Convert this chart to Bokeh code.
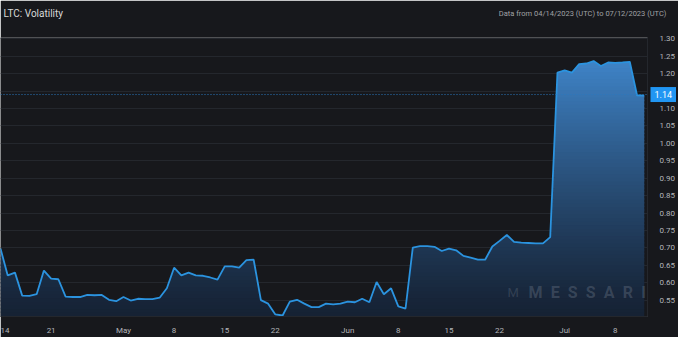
import numpy as np
from datetime import datetime, timedelta
from bokeh.plotting import figure
from bokeh.models import Range1d, FixedTicker, Label, Span, NumeralTickFormatter
from bokeh.embed import file_html
from bokeh.resources import INLINE

# ---------------- data ----------------
start_date = datetime(2023, 4, 14)
volatility = [
    0.698, 0.621, 0.629, 0.563, 0.562, 0.567, 0.635, 0.612, 0.610, 0.560,
    0.559, 0.559, 0.565, 0.564, 0.565, 0.551, 0.547, 0.559, 0.549, 0.554,
    0.553, 0.553, 0.557, 0.584, 0.643, 0.621, 0.629, 0.621, 0.620, 0.615,
    0.609, 0.647, 0.647, 0.643, 0.665, 0.666, 0.550, 0.540, 0.509, 0.506,
    0.546, 0.551, 0.540, 0.530, 0.530, 0.540, 0.538, 0.540, 0.546, 0.544,
    0.554, 0.544, 0.602, 0.567, 0.584, 0.532, 0.526, 0.701, 0.705, 0.705,
    0.703, 0.691, 0.698, 0.693, 0.677, 0.672, 0.666, 0.666, 0.704, 0.720,
    0.737, 0.717, 0.715, 0.714, 0.713, 0.713, 0.731, 1.203, 1.209, 1.203,
    1.227, 1.229, 1.236, 1.222, 1.232, 1.231, 1.232, 1.234, 1.138, 1.137,
]
dates = [start_date + timedelta(days=i) for i in range(len(volatility))]

tick_dates = ["2023-04-14", "2023-04-21", "2023-05-01", "2023-05-08", "2023-05-15",
              "2023-05-22", "2023-06-01", "2023-06-08", "2023-06-15", "2023-06-22",
              "2023-07-01", "2023-07-08"]
tick_labels = ["14", "21", "May", "8", "15", "22", "Jun", "8", "15", "22", "Jul", "8"]
y_ticks = [0.55, 0.60, 0.65, 0.70, 0.75, 0.80, 0.85, 0.90, 0.95, 1.00,
           1.05, 1.10, 1.15, 1.20, 1.25, 1.30]
last_value = 1.14
last_label = "1.14"
title_text = "LTC: Volatility"
range_text = "Data from 04/14/2023 (UTC) to 07/12/2023 (UTC)"
watermark_text = "\u2002".join("MESSARI")

# ---------------- geometry ----------------
W, H = 678, 337
FRAME_TOP, FRAME_RIGHT, FRAME_BOTTOM = 37, 652, 322
Y_PER_PX = 0.05 / 17.8                 # value units per pixel
Y_BOTTOM = 0.55 - (FRAME_BOTTOM - 305.3) * Y_PER_PX
Y_TOP = 1.30 + (38.3 - FRAME_TOP) * Y_PER_PX
DAY = 86400000.0
X_DAYS = 89.45
PX_PER_DAY = FRAME_RIGHT / X_DAYS


def to_ms(d):
    return float(np.datetime64(d, "ms").astype("int64"))


x_ms = np.array([to_ms(d) for d in dates])
v = np.array(volatility)
X0 = x_ms[0]


def cx(px):   # canvas px -> data x
    return X0 + px / PX_PER_DAY * DAY


def cy(py):   # canvas px -> data y
    return Y_TOP - (py - FRAME_TOP) * Y_PER_PX


BG = "#17181c"
p = figure(width=W, height=H, x_axis_type="datetime", y_axis_location="right",
           output_backend="svg", toolbar_location=None, title=None,
           x_range=Range1d(X0, X0 + X_DAYS * DAY),
           y_range=Range1d(Y_BOTTOM, Y_TOP),
           min_border_left=0, min_border_right=W - FRAME_RIGHT,
           min_border_top=FRAME_TOP, min_border_bottom=H - FRAME_BOTTOM)
p.background_fill_color = BG
p.border_fill_color = BG
p.outline_line_color = None

# gradient fill under the line, as horizontal bands
lo_rgb = np.array([22, 34, 52])
hi_rgb = np.array([64, 134, 203])
n_bands = 70
edges = np.linspace(Y_BOTTOM, v.max(), n_bands + 1)
edges[0] = Y_BOTTOM - 0.05


def refine(levels):
    xs = list(x_ms)
    for i in range(len(v) - 1):
        for L in levels:
            a0, a1 = v[i] - L, v[i + 1] - L
            if a0 * a1 < 0:
                t = a0 / (a0 - a1)
                xs.append(x_ms[i] + t * (x_ms[i + 1] - x_ms[i]))
    xs = np.unique(np.array(xs))
    return xs, np.interp(xs, x_ms, v)


for k in range(n_bands):
    a, b = edges[k], edges[k + 1]
    xs, ys = refine([a, b])
    y1 = np.minimum(ys, a)
    y2 = np.minimum(ys, b + 0.004)
    mid = max((a + b) / 2, Y_BOTTOM)
    t = np.clip((mid - 0.50) / (1.25 - 0.50), 0, 1) ** 1.2
    rgb = (lo_rgb + t * (hi_rgb - lo_rgb)).astype(int)
    p.varea(x=xs, y1=y1, y2=y2, fill_color="#%02x%02x%02x" % tuple(rgb), fill_alpha=1.0)

p.line(x=x_ms, y=v, line_color="#2b93df", line_width=1.8)

# last value dotted line
p.add_layout(Span(location=last_value, dimension="width", line_color="#2a78c0",
                  line_dash="1 2", line_width=1))

# axes
tick_ms = [to_ms(datetime.strptime(s, "%Y-%m-%d")) for s in tick_dates]
p.xaxis.ticker = FixedTicker(ticks=tick_ms)
p.xaxis.major_label_overrides = {t: l for t, l in zip(tick_ms, tick_labels)}
p.yaxis.ticker = FixedTicker(ticks=y_ticks)
p.yaxis.formatter = NumeralTickFormatter(format="0.00")
for ax in (p.xaxis[0], p.yaxis[0]):
    ax.axis_line_color = "#24272d"
    ax.major_tick_line_color = None
    ax.minor_tick_line_color = None
    ax.major_label_text_font = "Roboto"
    ax.major_label_text_font_size = "8px"
    ax.major_label_text_color = "#b4b6ba"
p.xaxis.major_label_standoff = 3
p.yaxis.major_label_standoff = 6

p.xgrid.grid_line_color = None
p.ygrid.ticker = FixedTicker(ticks=y_ticks)
p.ygrid.grid_line_color = "#24272d"
p.ygrid.grid_line_width = 1

# watermark (inside frame)
p.add_layout(Label(x=528, y=24, x_units="screen", y_units="screen", text=watermark_text,
                   text_font="Roboto", text_font_style="bold", text_font_size="16px",
                   text_color="#a3acb8", text_alpha=0.24, text_baseline="middle"))
p.add_layout(Label(x=507, y=24, x_units="screen", y_units="screen", text="M",
                   text_font="Roboto", text_font_size="13px",
                   text_color="#a3acb8", text_alpha=0.2, text_baseline="middle"))

# texts outside the frame: placed in the top side panel, positioned in data units
p.add_layout(Label(x=cx(3), y=cy(12), text=title_text,
                   text_font="Roboto", text_font_size="10px", text_color="#d8d8d8",
                   text_baseline="middle"), "above")
p.add_layout(Label(x=cx(671), y=cy(12), text=range_text,
                   text_font="Roboto", text_font_size="7.5px", text_color="#a0a2a6",
                   text_align="right", text_baseline="middle"), "above")
tag_kw = dict(x=cx(655), y=last_value, text=last_label,
              text_font="Roboto", text_font_size="9px", text_color="#ffffff",
              text_baseline="middle", text_align="left",
              background_fill_color="#2196f3")
if "padding" in Label.properties():
    tag_kw["padding"] = 4
p.add_layout(Label(**tag_kw), "above")

open("out.html", "w").write(file_html(p, INLINE))
